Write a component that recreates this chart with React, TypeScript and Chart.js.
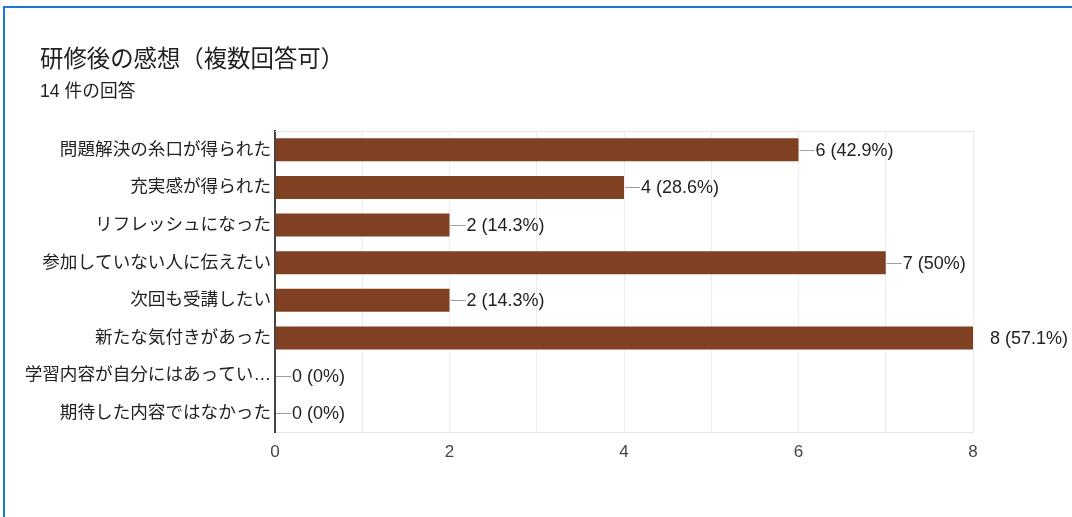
import React, { useEffect, useRef } from "react";
import { Chart, registerables } from "chart.js";

Chart.register(...registerables);

const TITLE = "研修後の感想（複数回答可）";
const RESPONSES = 14;
const SUBTITLE = `${RESPONSES} 件の回答`;

const categories: string[] = [
  "問題解決の糸口が得られた",
  "充実感が得られた",
  "リフレッシュになった",
  "参加していない人に伝えたい",
  "次回も受講したい",
  "新たな気付きがあった",
  "学習内容が自分にはあってい…",
  "期待した内容ではなかった",
];

const counts: number[] = [6, 4, 2, 7, 2, 8, 0, 0];

const xTickValues: number[] = [0, 2, 4, 6, 8];

const FONT = "'Liberation Sans', Arial, 'Noto Sans CJK JP', sans-serif";
const BAR_COLOR = "#7f4122";

function pctLabel(v: number): string {
  const p = Math.round((v / RESPONSES) * 1000) / 10;
  const s = Number.isInteger(p) ? String(p) : p.toFixed(1);
  return `${v} (${s}%)`;
}

const valueLabelPlugin = {
  id: "valueLabels",
  afterDatasetsDraw(chart: any) {
    const ctx = chart.ctx as CanvasRenderingContext2D;
    const meta = chart.getDatasetMeta(0);
    const area = chart.chartArea;
    const xMax = chart.scales.x.max;
    ctx.save();
    ctx.strokeStyle = "#e6e6e6";
    ctx.lineWidth = 1;
    ctx.beginPath();
    ctx.moveTo(area.left, area.top + 0.5);
    ctx.lineTo(area.right, area.top + 0.5);
    ctx.stroke();

    ctx.font = `18px ${FONT}`;
    ctx.textBaseline = "middle";
    ctx.textAlign = "left";
    meta.data.forEach((el: any, i: number) => {
      const v = counts[i];
      const x = el.x;
      const y = Math.round(el.y) + 0.5;
      if (v < xMax) {
        ctx.strokeStyle = "#9e9e9e";
        ctx.lineWidth = 1;
        ctx.beginPath();
        ctx.moveTo(x + 1, y);
        ctx.lineTo(x + 16, y);
        ctx.stroke();
      }
      ctx.fillStyle = "#222222";
      ctx.fillText(pctLabel(v), x + 17, y + 1);
    });
    ctx.restore();
  },
};

function BarChart() {
  const ref = useRef<HTMLCanvasElement | null>(null);
  useEffect(() => {
    if (!ref.current) return;
    const chart = new Chart(ref.current, {
      type: "bar",
      data: {
        labels: categories,
        datasets: [
          {
            data: counts,
            backgroundColor: BAR_COLOR,
            borderWidth: 0,
            barPercentage: 0.61,
            categoryPercentage: 1,
          },
        ],
      },
      options: {
        indexAxis: "y",
        responsive: false,
        animation: false,
        events: [],
        layout: { padding: { top: 131, bottom: 55, right: 99, left: 0 } },
        plugins: {
          legend: { display: false },
          tooltip: { enabled: false },
        },
        scales: {
          x: {
            min: 0,
            max: 8,
            afterFit: (scale: any) => {
              scale.height = 30;
            },
            ticks: {
              stepSize: 1,
              padding: 10,
              color: "#444444",
              font: { size: 17, family: FONT },
              callback: (value: any) =>
                xTickValues.includes(Number(value)) ? String(value) : "",
              maxRotation: 0,
              autoSkip: false,
            },
            grid: { color: "#ececec", lineWidth: 1, drawTicks: false },
            border: { display: true, color: "#e6e6e6", width: 1 },
          },
          y: {
            afterFit: (scale: any) => {
              scale.width = 275;
            },
            ticks: {
              padding: 4,
              color: "#222222",
              font: { size: 17.6, family: FONT },
              autoSkip: false,
            },
            grid: { display: false, drawTicks: false },
            border: { display: true, color: "#444444", width: 2 },
          },
        },
      },
      plugins: [valueLabelPlugin],
    });
    return () => chart.destroy();
  }, []);
  return (
    <canvas
      ref={ref}
      width={1072}
      height={517}
      style={{ position: "absolute", left: 0, top: 0, width: 1072, height: 517 }}
    />
  );
}

export default function App() {
  return (
    <div
      style={{
        position: "fixed",
        left: 0,
        top: 0,
        width: 1072,
        height: 517,
        background: "#ffffff",
        overflow: "hidden",
      }}
    >
      <div
        style={{
          position: "absolute",
          left: 3,
          top: 6,
          right: 0,
          bottom: 0,
          borderLeft: "2px solid #1a78d2",
          borderTop: "2px solid #1a78d2",
        }}
      />
      <BarChart />
      <div
        style={{
          position: "absolute",
          left: 40,
          top: 47,
          fontFamily: FONT,
          fontSize: 23.4,
          lineHeight: "25px",
          color: "#202124",
          whiteSpace: "nowrap",
        }}
      >
        {TITLE}
      </div>
      <div
        style={{
          position: "absolute",
          left: 40,
          top: 81,
          fontFamily: FONT,
          fontSize: 17.7,
          lineHeight: "20px",
          color: "#202124",
          whiteSpace: "nowrap",
        }}
      >
        {SUBTITLE}
      </div>
    </div>
  );
}
